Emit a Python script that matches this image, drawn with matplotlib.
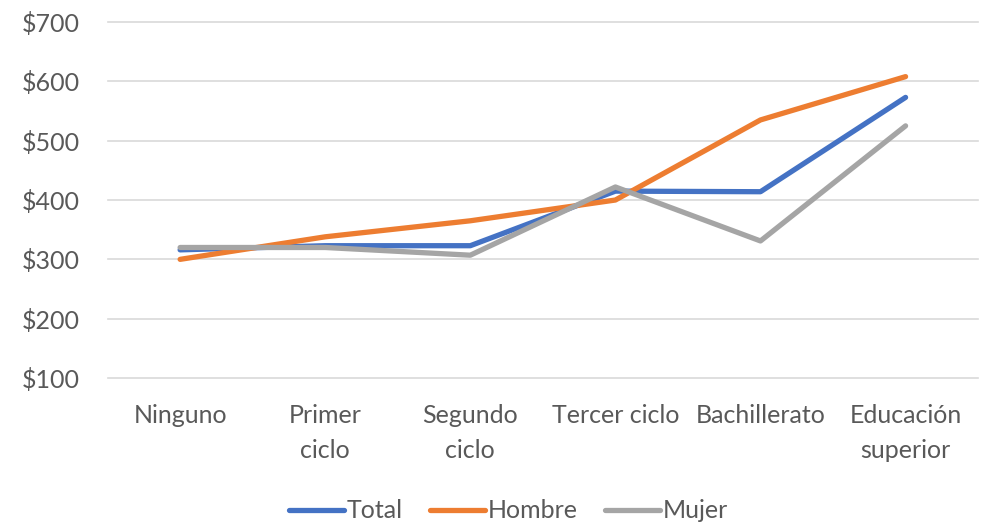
import matplotlib.pyplot as plt
from matplotlib.ticker import FuncFormatter

categorias = ['Ninguno', 'Primer\nciclo', 'Segundo\nciclo', 'Tercer ciclo', 'Bachillerato', 'Educación\nsuperior']
total = [316, 323, 323, 415, 414, 573]
hombre = [300, 338, 365, 400, 535, 608]
mujer = [320, 320, 307, 422, 331, 525]

plt.rcParams['font.family'] = ['Lato', 'DejaVu Sans']
texto = '#595959'

fig = plt.figure(figsize=(9.87, 5.25), dpi=100)
ax = fig.add_axes([0.109, 0.28, 0.882, 0.678])

x = range(len(categorias))
ax.plot(x, total, color='#4472C4', lw=3.8, label='Total', solid_capstyle='round')
ax.plot(x, hombre, color='#ED7D31', lw=3.8, label='Hombre', solid_capstyle='round')
ax.plot(x, mujer, color='#A5A5A5', lw=3.8, label='Mujer', solid_capstyle='round')

ax.set_xlim(-0.5, len(categorias) - 0.5)
ax.set_ylim(100, 700)
ax.set_yticks(range(100, 701, 100))
ax.yaxis.set_major_formatter(FuncFormatter(lambda v, p: f'${v:.0f}'))
ax.set_xticks(list(x))
ax.set_xticklabels(categorias, linespacing=1.6)
ax.grid(axis='y', color='#D9D9D9', lw=1.2)
for g in ax.get_ygridlines():
    g.set_clip_on(False)
ax.set_axisbelow(True)
for s in ax.spines.values():
    s.set_visible(False)
ax.tick_params(length=0, labelsize=18, colors=texto)
ax.tick_params(axis='x', pad=19)
ax.tick_params(axis='y', pad=20)

fig.legend(*ax.get_legend_handles_labels(), loc='center', bbox_to_anchor=(0.515, 1 - 511 / 525),
           ncol=3, frameon=False, fontsize=18, labelcolor=texto, handlelength=2.2,
           handletextpad=0.1, columnspacing=1.1)

fig.savefig('out.png', dpi=100)
